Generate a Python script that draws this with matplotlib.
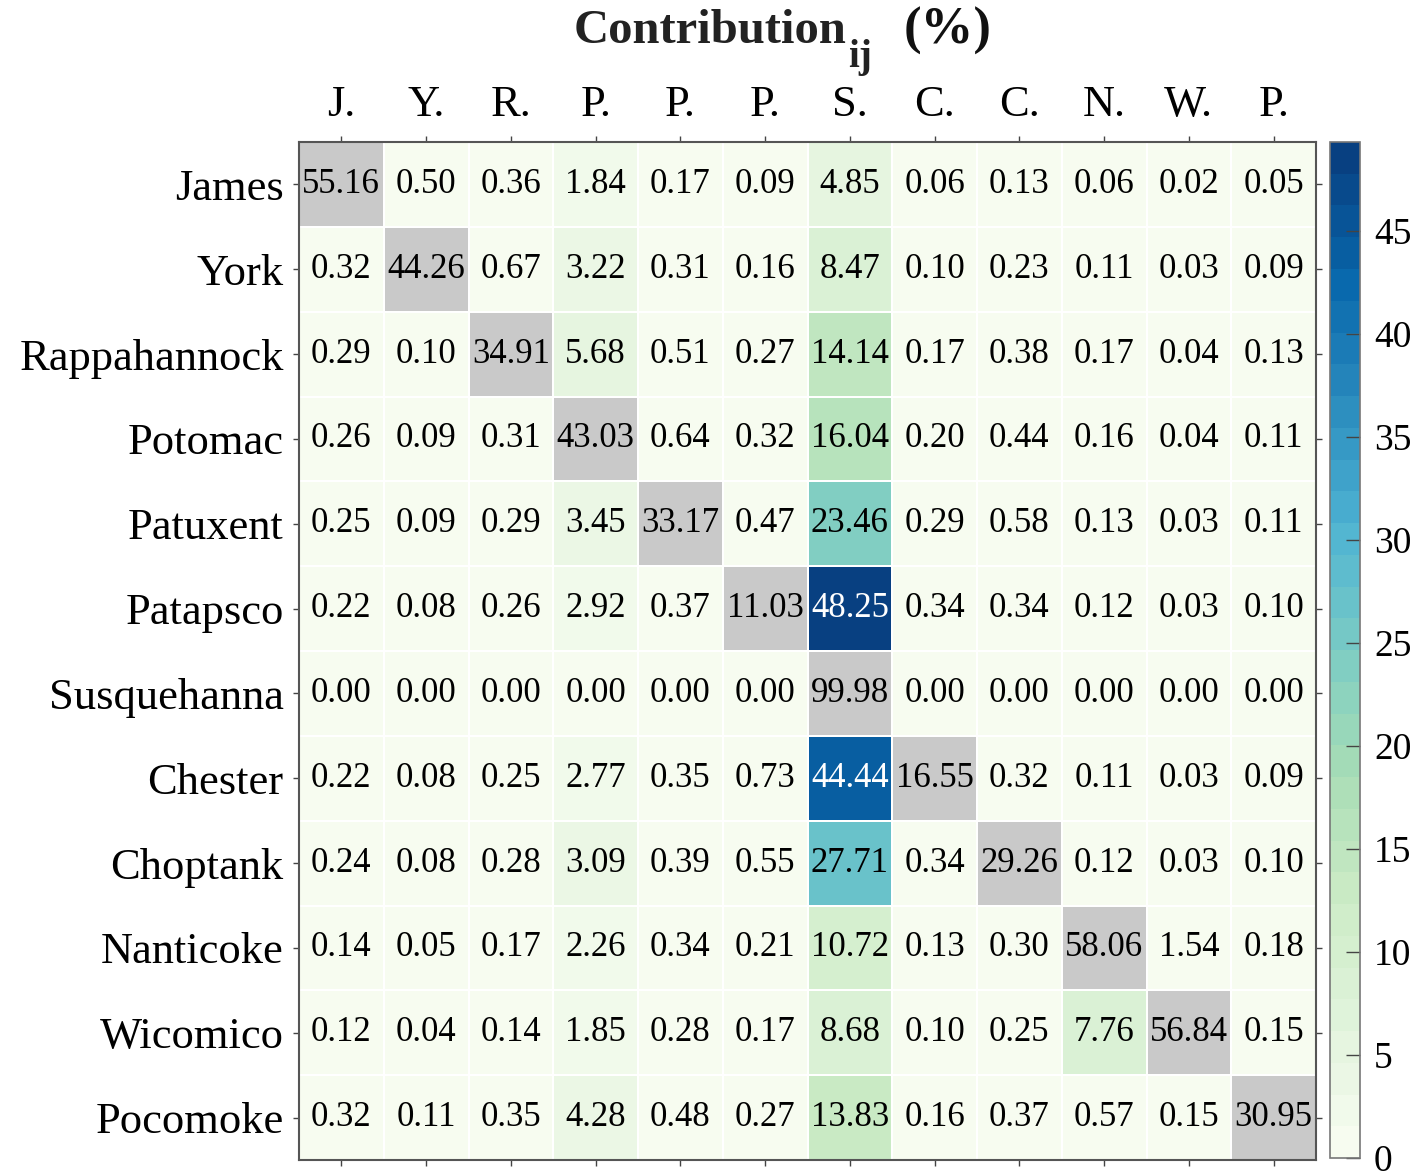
import numpy as np
import matplotlib
matplotlib.use("Agg")
import matplotlib.pyplot as plt
from matplotlib.colors import ListedColormap

# data
rows = ["James", "York", "Rappahannock", "Potomac", "Patuxent", "Patapsco",
        "Susquehanna", "Chester", "Choptank", "Nanticoke", "Wicomico",
        "Pocomoke"]
cols = ["J.", "Y.", "R.", "P.", "P.", "P.", "S.", "C.", "C.", "N.", "W.", "P."]

james = [55.16, 0.50, 0.36, 1.84, 0.17, 0.09, 4.85, 0.06, 0.13, 0.06, 0.02, 0.05]
york = [0.32, 44.26, 0.67, 3.22, 0.31, 0.16, 8.47, 0.10, 0.23, 0.11, 0.03, 0.09]
rappahannock = [0.29, 0.10, 34.91, 5.68, 0.51, 0.27, 14.14, 0.17, 0.38, 0.17, 0.04, 0.13]
potomac = [0.26, 0.09, 0.31, 43.03, 0.64, 0.32, 16.04, 0.20, 0.44, 0.16, 0.04, 0.11]
patuxent = [0.25, 0.09, 0.29, 3.45, 33.17, 0.47, 23.46, 0.29, 0.58, 0.13, 0.03, 0.11]
patapsco = [0.22, 0.08, 0.26, 2.92, 0.37, 11.03, 48.25, 0.34, 0.34, 0.12, 0.03, 0.10]
susquehanna = [0.00, 0.00, 0.00, 0.00, 0.00, 0.00, 99.98, 0.00, 0.00, 0.00, 0.00, 0.00]
chester = [0.22, 0.08, 0.25, 2.77, 0.35, 0.73, 44.44, 16.55, 0.32, 0.11, 0.03, 0.09]
choptank = [0.24, 0.08, 0.28, 3.09, 0.39, 0.55, 27.71, 0.34, 29.26, 0.12, 0.03, 0.10]
nanticoke = [0.14, 0.05, 0.17, 2.26, 0.34, 0.21, 10.72, 0.13, 0.30, 58.06, 1.54, 0.18]
wicomico = [0.12, 0.04, 0.14, 1.85, 0.28, 0.17, 8.68, 0.10, 0.25, 7.76, 56.84, 0.15]
pocomoke = [0.32, 0.11, 0.35, 4.28, 0.48, 0.27, 13.83, 0.16, 0.37, 0.57, 0.15, 30.95]

cbar_ticks = [0, 5, 10, 15, 20, 25, 30, 35, 40, 45]

data = np.array([james, york, rappahannock, potomac, patuxent, patapsco,
                 susquehanna, chester, choptank, nanticoke, wicomico, pocomoke])
n = len(rows)

plt.rcParams["font.family"] = ["Liberation Serif", "DejaVu Serif"]

W, H = 1419, 1171
fig = plt.figure(figsize=(W / 100, H / 100), dpi=100)


def fx(px):
    return px / W


def fy(py):
    return 1 - py / H


ax = fig.add_axes([fx(299), fy(1160), fx(1316) - fx(299), fy(142) - fy(1160)])
cax = fig.add_axes([fx(1330), fy(1158), fx(1360) - fx(1330), fy(142) - fy(1158)])

cmap = ListedColormap(plt.get_cmap("GnBu")(np.linspace(0, 1, 32)))
vmax = 49.3

diag = np.eye(n, dtype=bool)
off = np.ma.masked_where(diag, data)
mesh = ax.pcolormesh(np.arange(n + 1), np.arange(n + 1), off, cmap=cmap,
                     vmin=0, vmax=vmax, edgecolors="white", linewidth=1.2)
gray = np.ma.masked_where(~diag, np.ones_like(data))
ax.pcolormesh(np.arange(n + 1), np.arange(n + 1), gray,
              cmap=ListedColormap(["#c9c9c9"]), vmin=0, vmax=1,
              edgecolors="white", linewidth=1.2)

for i in range(n):
    for j in range(n):
        v = data[i, j]
        color = "white" if (not diag[i, j] and v > 38) else "black"
        ax.text(j + 0.5, i + 0.5, f"{v:.2f}", ha="center", va="center",
                fontsize=25, color=color)

ax.set_xlim(0, n)
ax.set_ylim(n, 0)
ax.set_xticks(np.arange(n) + 0.5)
ax.set_yticks(np.arange(n) + 0.5)
ax.set_xticklabels(cols, fontsize=32)
ax.set_yticklabels(rows, fontsize=32)
ax.tick_params(axis="both", which="both", direction="out", length=4,
               width=1, color="#444444", top=True, bottom=True, left=True,
               right=True, labeltop=True, labelbottom=False)
ax.tick_params(axis="x", pad=8)
ax.tick_params(axis="y", pad=7)
for s in ax.spines.values():
    s.set_color("#555555")
    s.set_linewidth(1.5)

cb = fig.colorbar(mesh, cax=cax, ticks=cbar_ticks)
cb.outline.set_edgecolor("#777777")
cb.outline.set_linewidth(1.2)
cax.tick_params(direction="in", length=10, width=1, color="#444444",
                labelsize=27, pad=10)

# title with subscript
fig.text(fx(574), fy(31), "Contribution", fontsize=35, fontweight="bold",
         ha="left", va="center", color="#222222")
fig.text(fx(848), fy(58), "ij", fontsize=28, fontweight="bold",
         ha="left", va="center", color="#222222")
fig.text(fx(904), fy(31), "(%)", fontsize=38, fontweight="bold",
         ha="left", va="center", color="#111111")

fig.savefig("out.png", dpi=100)
plt.close(fig)
